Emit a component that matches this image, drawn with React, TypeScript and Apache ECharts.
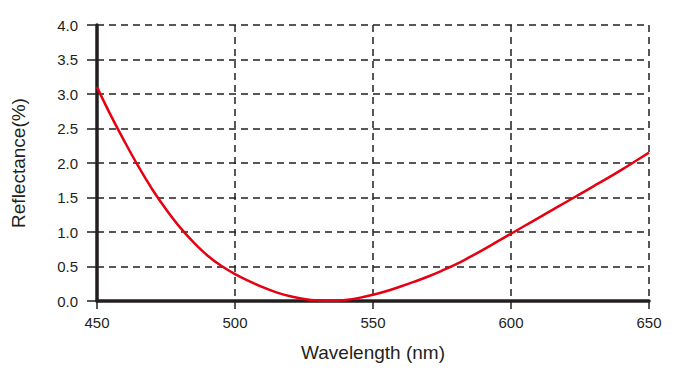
import React, { useEffect, useRef } from "react";
import * as echarts from "echarts";

const wavelengths = [450, 455, 460, 465, 470, 475, 480, 485, 490, 495, 500, 505, 510, 515, 520, 525, 530, 535, 540, 545, 550, 555, 560, 565, 570, 575, 580, 585, 590, 595, 600, 605, 610, 615, 620, 625, 630, 635, 640, 645, 650];
const reflectance = [3.10, 2.69, 2.31, 1.95, 1.62, 1.33, 1.07, 0.85, 0.66, 0.51, 0.39, 0.29, 0.20, 0.125, 0.07, 0.03, 0.007, 0.0, 0.015, 0.045, 0.09, 0.145, 0.21, 0.28, 0.355, 0.44, 0.53, 0.635, 0.745, 0.86, 0.975, 1.09, 1.205, 1.32, 1.435, 1.55, 1.665, 1.78, 1.9, 2.025, 2.15];

const xTitle = "Wavelength (nm)";
const yTitle = "Reflectance(%)";

const dark = "#231f20";
const font = "'Liberation Sans', Arial, Helvetica, sans-serif";

export default function App() {
  const ref = useRef<HTMLDivElement>(null);
  useEffect(() => {
    if (!ref.current) return;
    const chart = echarts.init(ref.current, null, { renderer: "svg" });
    chart.setOption({
      animation: false,
      grid: { left: 97, right: 45, top: 25, bottom: 69, outerBoundsMode: "none", containLabel: false },
      xAxis: {
        type: "value",
        min: 450,
        max: 650,
        interval: 50,
        name: xTitle,
        nameLocation: "middle",
        nameGap: 42,
        nameTextStyle: { color: dark, fontSize: 19, fontFamily: font },
        axisLine: { show: true, lineStyle: { color: dark, width: 3.5 } },
        axisTick: { show: true, length: 8, lineStyle: { color: dark, width: 1.5 } },
        axisLabel: { color: dark, fontSize: 15, fontFamily: font, margin: 14 },
        splitLine: { show: true, lineStyle: { color: dark, width: 1.5, type: [7, 5] } },
      },
      yAxis: {
        type: "value",
        min: 0,
        max: 4,
        interval: 0.5,
        name: yTitle,
        nameLocation: "middle",
        nameGap: 69,
        nameTextStyle: { color: dark, fontSize: 19, fontFamily: font },
        axisLine: { show: true, lineStyle: { color: dark, width: 3.5 } },
        axisTick: { show: true, length: 10, lineStyle: { color: dark, width: 1.5 } },
        axisLabel: {
          color: dark,
          fontSize: 15,
          fontFamily: font,
          margin: 19,
          formatter: (v: number) => v.toFixed(1),
        },
        splitLine: { show: true, lineStyle: { color: dark, width: 1.5, type: [7, 5] } },
      },
      series: [
        {
          type: "line",
          data: wavelengths.map((w, i) => [w, reflectance[i]]),
          smooth: 0.4,
          showSymbol: false,
          lineStyle: { color: "#e60012", width: 2.5 },
          z: 5,
        },
      ],
    });
    return () => chart.dispose();
  }, []);
  return <div ref={ref} style={{ width: 694, height: 370, position: "absolute", left: 0, top: 0 }} />;
}
